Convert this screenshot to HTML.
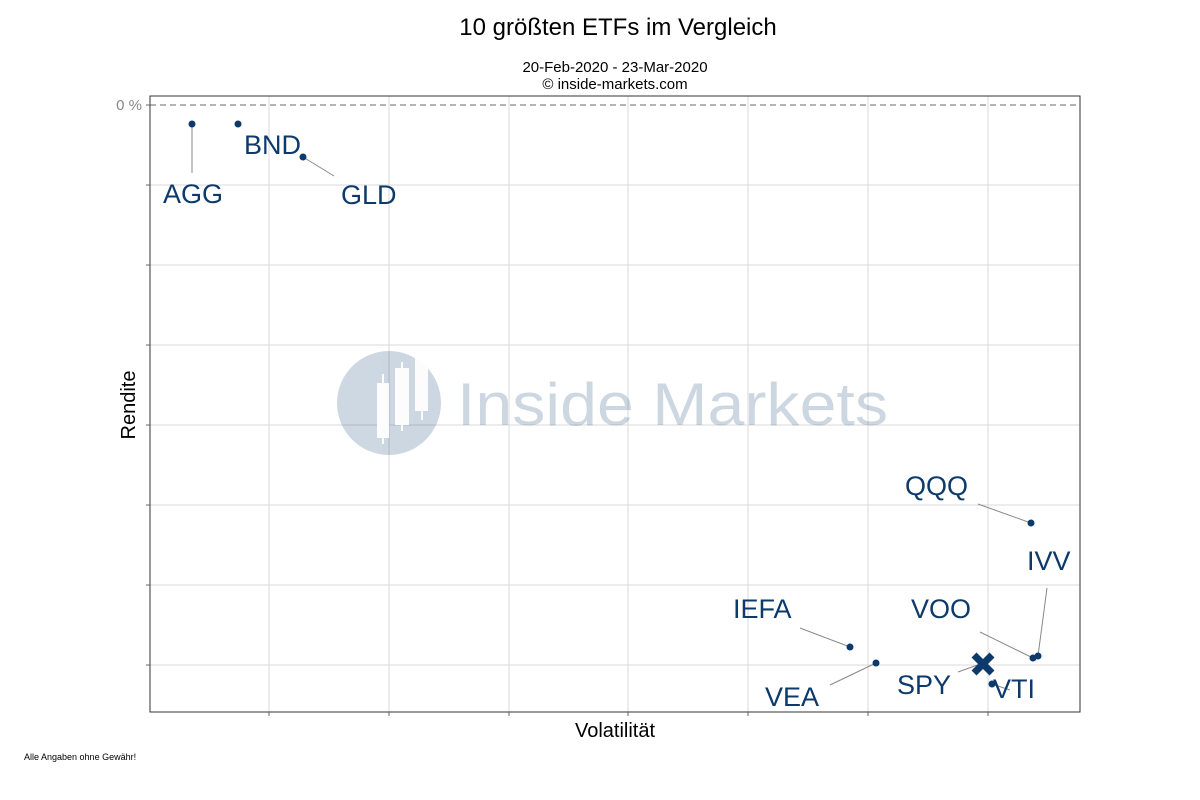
<!DOCTYPE html>
<html><head><meta charset="utf-8"><style>body{margin:0;background:#fff}svg{display:block}</style></head><body>
<svg width="1200" height="800" xmlns="http://www.w3.org/2000/svg" font-family="Liberation Sans, sans-serif">
<rect width="1200" height="800" fill="#fff"/>
<text x="618" y="35" font-size="24" text-anchor="middle" fill="#000">10 größten ETFs im Vergleich</text>
<text x="615" y="72" font-size="15" text-anchor="middle">20-Feb-2020 - 23-Mar-2020</text>
<text x="615" y="89" font-size="15" text-anchor="middle">© inside-markets.com</text>
<g stroke="#d9d9d9" stroke-width="1">
<line x1="269" y1="96" x2="269" y2="712"/><line x1="389" y1="96" x2="389" y2="712"/><line x1="509" y1="96" x2="509" y2="712"/><line x1="628" y1="96" x2="628" y2="712"/><line x1="748" y1="96" x2="748" y2="712"/><line x1="868" y1="96" x2="868" y2="712"/><line x1="988" y1="96" x2="988" y2="712"/>
<line x1="150" y1="185" x2="1080" y2="185"/><line x1="150" y1="265" x2="1080" y2="265"/><line x1="150" y1="345" x2="1080" y2="345"/><line x1="150" y1="425" x2="1080" y2="425"/><line x1="150" y1="505" x2="1080" y2="505"/><line x1="150" y1="585" x2="1080" y2="585"/><line x1="150" y1="665" x2="1080" y2="665"/>
</g>
<g opacity="0.22" fill="#1f4e79">
<circle cx="389" cy="403" r="52"/>
<text x="457" y="425" font-size="60" textLength="431" lengthAdjust="spacingAndGlyphs" fill="#1f4e79">Inside Markets</text>
</g>
<g fill="#fff" opacity="0.95">
<rect x="377" y="383" width="12" height="55"/><rect x="382" y="374" width="2" height="70"/>
<rect x="395" y="368" width="14" height="57"/><rect x="401" y="362" width="2" height="69"/>
<rect x="415" y="355" width="13" height="56"/><rect x="421" y="411" width="2" height="9"/>
</g>
<line x1="150" y1="105" x2="1080" y2="105" stroke="#888" stroke-dasharray="6,4" stroke-width="1.3"/>
<rect x="150" y="96" width="930" height="616" fill="none" stroke="#333" stroke-width="1"/>
<g stroke="#666" stroke-width="1"><line x1="146" y1="105" x2="150" y2="105"/><line x1="146" y1="185" x2="150" y2="185"/><line x1="146" y1="265" x2="150" y2="265"/><line x1="146" y1="345" x2="150" y2="345"/><line x1="146" y1="425" x2="150" y2="425"/><line x1="146" y1="505" x2="150" y2="505"/><line x1="146" y1="585" x2="150" y2="585"/><line x1="146" y1="665" x2="150" y2="665"/>
<line x1="269" y1="712" x2="269" y2="716"/><line x1="389" y1="712" x2="389" y2="716"/><line x1="509" y1="712" x2="509" y2="716"/><line x1="628" y1="712" x2="628" y2="716"/><line x1="748" y1="712" x2="748" y2="716"/><line x1="868" y1="712" x2="868" y2="716"/><line x1="988" y1="712" x2="988" y2="716"/></g>
<text x="142" y="110" font-size="15" fill="#888" text-anchor="end">0 %</text>
<text x="615" y="737" font-size="20" text-anchor="middle">Volatilität</text>
<text transform="translate(135,405) rotate(-90)" font-size="20" text-anchor="middle">Rendite</text>
<text x="24" y="760" font-size="9">Alle Angaben ohne Gewähr!</text>
<g stroke="#888" stroke-width="1">
<line x1="192" y1="124" x2="192" y2="173"/><line x1="303" y1="157" x2="334" y2="176"/>
<line x1="1031" y1="523" x2="978" y2="504"/><line x1="1038" y1="656" x2="1047" y2="588"/>
<line x1="1033" y1="658" x2="980" y2="632"/><line x1="850" y1="647" x2="800" y2="628"/>
<line x1="876" y1="663" x2="830" y2="685"/><line x1="983" y1="663" x2="958" y2="672"/><line x1="992" y1="684" x2="1010" y2="690"/>
</g>
<g fill="#0d3a6b">
<circle cx="192" cy="124" r="3.5"/><circle cx="238" cy="124" r="3.5"/><circle cx="303" cy="157" r="3.5"/>
<circle cx="1031" cy="523" r="3.5"/><circle cx="1038" cy="656" r="3.5"/><circle cx="1033" cy="658" r="3.5"/>
<circle cx="850" cy="647" r="3.5"/><circle cx="876" cy="663" r="3.5"/><circle cx="992" cy="684" r="3.5"/>
</g>
<path d="M974 655 L992 673 M992 655 L974 673" stroke="#0d3a6b" stroke-width="7"/>
<g fill="#0d3a6b" font-size="27">
<text x="163" y="203">AGG</text><text x="244" y="154">BND</text><text x="341" y="204">GLD</text>
<text x="905" y="495">QQQ</text><text x="1027" y="570">IVV</text><text x="911" y="618">VOO</text>
<text x="733" y="618">IEFA</text><text x="765" y="706">VEA</text><text x="897" y="694">SPY</text><text x="993" y="698">VTI</text>
</g>
</svg>
</body></html>
